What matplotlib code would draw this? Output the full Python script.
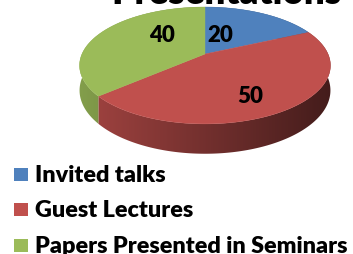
import numpy as np
import matplotlib.pyplot as plt
from matplotlib.patches import Polygon, Rectangle
from matplotlib.colors import to_rgb

categories = ["Invited talks", "Guest Lectures", "Papers Presented in Seminars"]
values = [20, 50, 40]
colors = ["#4F81BD", "#C0504D", "#9BBB59"]
title = "Presentations"

# pie geometry in pixel space (perspective tilt k)
cx, cy, a, b, k, depth = 205, 55, 123, 56.2, 0.196, 24
label_pos = [(220.5, 35), (250, 97), (162, 35)]


def proj(theta, r=1.0):
    u, v = r * np.cos(theta), r * np.sin(theta)
    s = 1.0 / (1.0 + k * v)
    return cx + a * u * s, cy - b * v * s, s


fig = plt.figure(figsize=(3.53, 2.55), dpi=100)
ax = fig.add_axes([0, 0, 1, 1])
ax.set_xlim(0, 353)
ax.set_ylim(255, 0)
ax.axis("off")

fracs = np.array(values) / np.sum(values)
starts = np.pi / 2 - 2 * np.pi * np.concatenate([[0], np.cumsum(fracs)[:-1]])
ends = starts - 2 * np.pi * fracs

# side walls with left-to-right darkening
xs = np.linspace(cx - a - 5, cx + a + 5, 200)
fshade = 0.85 - 0.5 * (xs - xs[0]) / (xs[-1] - xs[0])
for st, en, col in zip(starts, ends, colors):
    th = np.linspace(st, en, 200)
    top = [proj(t) for t in th]
    upper = [(x, y) for x, y, s in top]
    lower = [(x, y + depth * s) for x, y, s in top][::-1]
    side = Polygon(upper + lower, closed=True, facecolor="none", edgecolor="none")
    ax.add_patch(side)
    grad = np.clip(np.array(to_rgb(col))[None, None, :] * fshade[None, :, None], 0, 1)
    im = ax.imshow(grad, extent=(xs[0], xs[-1], 160, 0), aspect="auto",
                   interpolation="bilinear", zorder=1)
    im.set_clip_path(side)

# top face
for st, en, col in zip(starts, ends, colors):
    th = np.linspace(st, en, 200)
    pts = [proj(0, 0)[:2]] + [proj(t)[:2] for t in th]
    ax.add_patch(Polygon(pts, closed=True, facecolor=col, edgecolor=col,
                         lw=0.3, zorder=2))

for v, (x, y) in zip(values, label_pos):
    ax.text(x, y, str(v), ha="center", va="center", fontsize=16,
            fontweight="heavy", family="Lato", color="black", zorder=3)

ax.text(226, 4.5, title, ha="center", va="baseline", fontsize=26.5,
        fontweight="heavy", family="Lato", color="black")

# legend
for i, (name, col) in enumerate(zip(categories, colors)):
    yc = 175.5 + i * 35.3
    ax.add_patch(Rectangle((14, yc - 6.5), 14, 13, facecolor=col, edgecolor="none"))
    ax.text(35, yc, name, ha="left", va="center", fontsize=16.8,
            fontweight="heavy", family="Lato", color="black")

fig.savefig("out.png", dpi=100)
